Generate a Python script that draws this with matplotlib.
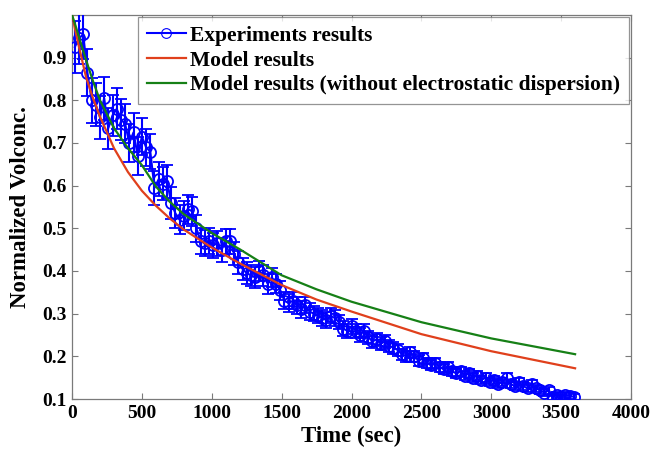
import matplotlib
matplotlib.use("Agg")
import matplotlib.pyplot as plt
from matplotlib.lines import Line2D

# experiment samples (every 30 s)
exp_t = [20 + 30 * i for i in range(120)]
exp_v = [
    0.925, 0.945, 0.955, 0.865, 0.800, 0.790, 0.760, 0.805, 0.735, 0.765,
    0.780, 0.755, 0.745, 0.700, 0.725, 0.670, 0.715, 0.690, 0.680, 0.595,
    0.615, 0.605, 0.610, 0.560, 0.535, 0.520, 0.530, 0.545, 0.540, 0.500,
    0.470, 0.465, 0.470, 0.460, 0.465, 0.450, 0.470, 0.470, 0.440, 0.420,
    0.405, 0.395, 0.390, 0.385, 0.400, 0.390, 0.370, 0.385, 0.370, 0.355,
    0.330, 0.325, 0.330, 0.320, 0.310, 0.320, 0.305, 0.300, 0.295, 0.290,
    0.285, 0.295, 0.290, 0.280, 0.265, 0.260, 0.270, 0.260, 0.250, 0.260,
    0.245, 0.235, 0.240, 0.230, 0.235, 0.225, 0.220, 0.215, 0.205, 0.200,
    0.210, 0.200, 0.190, 0.195, 0.185, 0.180, 0.185, 0.175, 0.170, 0.175,
    0.165, 0.160, 0.165, 0.155, 0.160, 0.150, 0.155, 0.145, 0.150, 0.140,
    0.145, 0.135, 0.140, 0.150, 0.135, 0.130, 0.140, 0.130, 0.125, 0.135,
    0.125, 0.120, 0.115, 0.120, 0.105, 0.110, 0.105, 0.110, 0.108, 0.105,
]
exp_err = [
    0.060, 0.060, 0.058, 0.055, 0.052, 0.050, 0.050, 0.050, 0.048, 0.048,
    0.048, 0.047, 0.046, 0.045, 0.045, 0.044, 0.044, 0.043, 0.042, 0.040,
    0.040, 0.039, 0.039, 0.037, 0.035, 0.034, 0.034, 0.034, 0.034, 0.032,
    0.030, 0.030, 0.030, 0.029, 0.029, 0.028, 0.029, 0.029, 0.027, 0.026,
    0.025, 0.025, 0.024, 0.024, 0.024, 0.024, 0.023, 0.023, 0.022, 0.022,
    0.020, 0.020, 0.020, 0.020, 0.019, 0.019, 0.019, 0.018, 0.018, 0.018,
    0.018, 0.018, 0.018, 0.017, 0.017, 0.016, 0.017, 0.016, 0.016, 0.016,
    0.015, 0.015, 0.015, 0.015, 0.015, 0.014, 0.014, 0.014, 0.013, 0.013,
    0.013, 0.013, 0.012, 0.012, 0.012, 0.012, 0.012, 0.011, 0.011, 0.011,
    0.011, 0.010, 0.011, 0.010, 0.010, 0.010, 0.010, 0.010, 0.010, 0.009,
    0.010, 0.009, 0.009, 0.010, 0.009, 0.009, 0.009, 0.009, 0.008, 0.009,
    0.008, 0.008, 0.008, 0.008, 0.007, 0.007, 0.007, 0.007, 0.007, 0.007,
]

model_t = [0, 25, 50, 100, 150, 200, 300, 400, 500, 600, 700, 800,
           1000, 1200, 1500, 1750, 2000, 2500, 3000, 3600]
model_v = [1.000, 0.962, 0.925, 0.855, 0.805, 0.762, 0.688, 0.632, 0.588, 0.553,
           0.523, 0.497, 0.455, 0.418, 0.367, 0.333, 0.305, 0.252, 0.212, 0.172]
model_noes_v = [1.000, 0.975, 0.948, 0.895, 0.845, 0.800, 0.735, 0.688, 0.648, 0.598,
                0.562, 0.533, 0.489, 0.451, 0.390, 0.357, 0.328, 0.280, 0.242, 0.205]

BLUE = "#0000ff"
RED = "#e0401c"
GREEN = "#168016"
AXC = "#7a7a7a"

plt.rcParams["font.family"] = ["Liberation Serif", "DejaVu Serif"]
plt.rcParams["font.weight"] = "bold"

fig = plt.figure(figsize=(6.53, 4.53), dpi=100)
ax = fig.add_axes([0.1103, 0.1192, 0.856, 0.8477])

ax.errorbar(exp_t, exp_v, yerr=exp_err, color=BLUE, lw=1.5, elinewidth=1.5,
            capsize=4, capthick=1.5, marker="o", ms=8, mfc="none",
            mec=BLUE, mew=1.3, zorder=3)
ax.plot(model_t, model_v, color=RED, lw=1.6, zorder=4)
ax.plot(model_t, model_noes_v, color=GREEN, lw=1.6, zorder=4)

ax.set_xlim(0, 4000)
ax.set_ylim(0.1, 1.0)
ax.set_xticks(range(0, 4001, 500))
ax.set_yticks([0.1, 0.2, 0.3, 0.4, 0.5, 0.6, 0.7, 0.8, 0.9])
ax.set_yticklabels(["0.1", "0.2", "0.3", "0.4", "0.5", "0.6", "0.7", "0.8", "0.9"])
ax.tick_params(direction="in", top=True, right=True, length=4, color=AXC,
               labelsize=14, pad=4)
for s in ax.spines.values():
    s.set_color(AXC)
    s.set_linewidth(0.9)

ax.set_xlabel("Time (sec)", fontsize=16.5, fontweight="bold", labelpad=3)
ax.set_ylabel("Normalized Volconc.", fontsize=16.5, fontweight="bold", labelpad=8)

handles = [
    Line2D([], [], color=BLUE, lw=1.5, marker="o", ms=7, mfc="none", mec=BLUE, mew=0.8),
    Line2D([], [], color=RED, lw=1.6),
    Line2D([], [], color=GREEN, lw=1.6),
]
labels = ["Experiments results", "Model results",
          "Model results (without electrostatic dispersion)"]
leg = ax.legend(handles, labels, loc="upper right", fontsize=15.5, frameon=True,
                fancybox=False, borderaxespad=0.1, handlelength=1.8,
                handletextpad=0.2, labelspacing=0.22, borderpad=0.4)
leg.get_frame().set_edgecolor(AXC)
leg.get_frame().set_linewidth(0.9)
for t in leg.get_texts():
    t.set_fontweight("bold")

fig.savefig("out.png", dpi=100)
